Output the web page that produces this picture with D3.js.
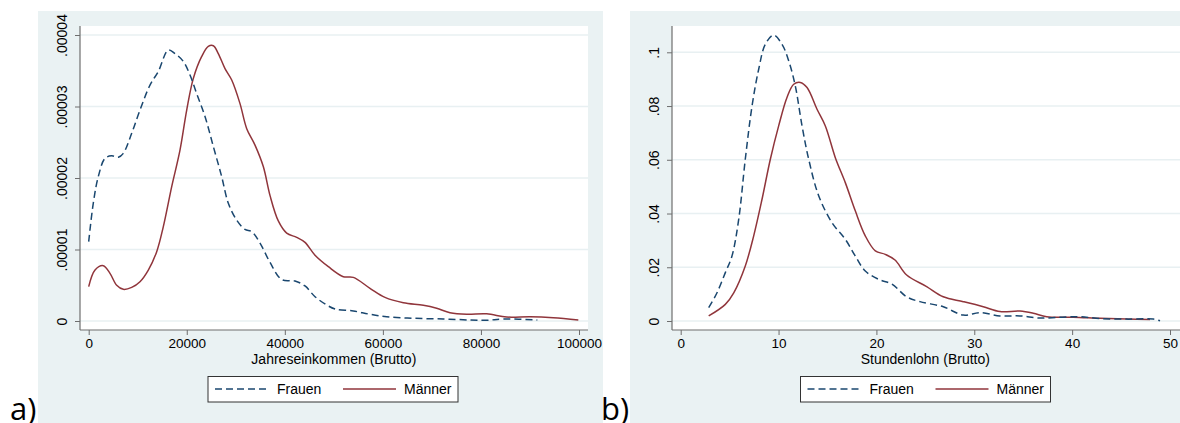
<!DOCTYPE html>
<html><head><meta charset="utf-8">
<script src="https://cdn.jsdelivr.net/npm/d3@7"></script>
<style>
html,body{margin:0;padding:0;background:#fff;}
svg{display:block;}
text{font-family:"Liberation Sans",Arial,sans-serif;fill:#000;}
</style></head>
<body><svg id="c" width="1180" height="423"></svg>
<script>
// ---------- data ----------
const incomeTicks = [0, 20000, 40000, 60000, 80000, 100000];
const incomeDensTicks = [0, 0.00001, 0.00002, 0.00003, 0.00004];
const incomeDensLabels = ["0", ".00001", ".00002", ".00003", ".00004"];
const wageTicks = [0, 10, 20, 30, 40, 50];
const wageDensTicks = [0, 0.02, 0.04, 0.06, 0.08, 0.1];
const wageDensLabels = ["0", ".02", ".04", ".06", ".08", ".1"];
const seriesNames = ["Frauen", "Männer"];
const panelLabels = ["a)", "b)"];
const axisTitles = ["Jahreseinkommen (Brutto)", "Stundenlohn (Brutto)"];

const incomeFrauenX = [0, 940, 1960, 3330, 4690, 6040, 7060, 8770, 10460, 12500, 14200, 16240, 17600, 19300, 20660, 22030, 23720, 25420, 27120, 28480, 30190, 31880, 33250, 34940, 36980, 39360, 42080, 44120, 46160, 48540, 50240, 53970, 57370, 60780, 66210, 72330, 77770, 81200, 84560, 91500];
const incomeFrauenY = [1.11, 1.65, 2.02, 2.275, 2.31, 2.29, 2.345, 2.625, 2.95, 3.30, 3.49, 3.79, 3.74, 3.63, 3.44, 3.18, 2.86, 2.44, 2.02, 1.646, 1.41, 1.28, 1.25, 1.09, 0.82, 0.58, 0.56, 0.49, 0.34, 0.224, 0.168, 0.14, 0.094, 0.06, 0.038, 0.028, 0.014, 0.01, 0.028, 0.014].map(v => v * 1e-5);
const incomeMaennerX = [0, 1290, 2980, 4340, 5710, 7060, 8770, 10460, 12160, 13870, 15220, 16930, 18620, 19990, 21330, 23050, 24390, 25420, 26430, 27800, 29170, 30860, 32230, 33920, 35610, 37000, 38670, 40380, 42420, 44120, 46160, 48880, 51930, 53970, 57370, 60430, 64170, 68250, 70970, 73690, 77090, 81170, 85250, 90000, 94760, 99860];
const incomeMaennerY = [0.48, 0.713, 0.774, 0.667, 0.50, 0.443, 0.47, 0.55, 0.713, 0.97, 1.32, 1.88, 2.39, 2.95, 3.39, 3.70, 3.84, 3.85, 3.74, 3.53, 3.37, 3.04, 2.69, 2.46, 2.16, 1.75, 1.40, 1.23, 1.17, 1.10, 0.92, 0.76, 0.62, 0.61, 0.457, 0.33, 0.256, 0.22, 0.178, 0.116, 0.094, 0.10, 0.056, 0.06, 0.046, 0.014].map(v => v * 1e-5);

const wageFrauenX = [2.86, 3.71, 4.56, 5.24, 5.93, 6.60, 7.29, 7.97, 8.65, 9.50, 10.35, 11.04, 11.71, 12.40, 13.08, 14.10, 15.46, 16.82, 17.84, 18.86, 20.23, 21.59, 23.09, 24.45, 26.83, 28.88, 30.58, 32.63, 34.67, 36.71, 38.76, 40.80, 42.85, 45.57, 48.29, 48.98];
const wageFrauenY = [0.00495, 0.0105, 0.018, 0.0242, 0.0379, 0.0602, 0.080, 0.0937, 0.103, 0.1064, 0.103, 0.0968, 0.0875, 0.0726, 0.0602, 0.0466, 0.0366, 0.0304, 0.0242, 0.0186, 0.0155, 0.0137, 0.0090, 0.0072, 0.0053, 0.0022, 0.0031, 0.0019, 0.0019, 0.0011, 0.0014, 0.0016, 0.0009, 0.0007, 0.0007, 0.0001];
const wageMaennerX = [2.86, 4.56, 5.42, 6.60, 7.46, 8.31, 9.16, 10.01, 10.86, 11.55, 12.22, 12.91, 13.93, 14.78, 15.80, 16.82, 17.84, 18.86, 19.89, 20.91, 21.9, 23.09, 25.13, 26.83, 28.88, 30.92, 32.63, 34.67, 36.03, 37.40, 40.12, 42.85, 45.57, 47.96];
const wageMaennerY = [0.0019, 0.0062, 0.0105, 0.0205, 0.0317, 0.0453, 0.0602, 0.0726, 0.0832, 0.0881, 0.0888, 0.0869, 0.0788, 0.0726, 0.0608, 0.0515, 0.0410, 0.0317, 0.0261, 0.0248, 0.0227, 0.0171, 0.0128, 0.0090, 0.0072, 0.0053, 0.0035, 0.0037, 0.0029, 0.0016, 0.0014, 0.0010, 0.0007, 0.0006];

// ---------- styles ----------
const COL_F = "#1a476f", COL_M = "#90353b", BG = "#eaf2f3", GRID = "#e8f0f2", AXIS = "#6e6e6e";

const svg = d3.select("#c");

function panel(cfg) {
  const g = svg.append("g");
  g.append("rect").attr("x", cfg.bx).attr("y", 11).attr("width", 565).attr("height", 430).attr("fill", BG);
  g.append("rect").attr("x", cfg.px0).attr("y", 26).attr("width", cfg.px1 - cfg.px0).attr("height", 304).attr("fill", "#fff");

  const x = d3.scaleLinear().domain(cfg.xDomain).range(cfg.xRange);
  const y = d3.scaleLinear().domain(cfg.yDomain).range([321, cfg.yTop]);

  g.selectAll(".grid").data(cfg.yTicks).join("line")
    .attr("x1", cfg.px0).attr("x2", cfg.px1)
    .attr("y1", d => y(d)).attr("y2", d => y(d))
    .attr("stroke", GRID).attr("stroke-width", 1.6);

  const ya = g.append("g").attr("transform", `translate(${cfg.px0},0)`)
    .call(d3.axisLeft(y).tickValues(cfg.yTicks).tickSize(5).tickSizeOuter(0).tickFormat((d, i) => cfg.yLabels[i]));
  ya.select(".domain").remove();
  ya.selectAll(".tick line").attr("stroke", AXIS);
  ya.selectAll(".tick text").attr("transform", "rotate(-90)").attr("x", 0).attr("y", -13)
    .attr("dy", 0).attr("text-anchor", "middle").style("font-size", "14px").style("font-family", '"Liberation Sans",Arial,sans-serif').attr("fill", "#000");
  g.append("line").attr("x1", cfg.px0).attr("x2", cfg.px0).attr("y1", 26).attr("y2", 330).attr("stroke", AXIS).attr("stroke-width", 1.2);

  const xa = g.append("g").attr("transform", "translate(0,330)")
    .call(d3.axisBottom(x).tickValues(cfg.xTicks).tickSize(5).tickSizeOuter(0).tickFormat(d3.format("d")));
  xa.select(".domain").remove();
  xa.selectAll(".tick line").attr("stroke", AXIS);
  xa.selectAll(".tick text").attr("y", 7).attr("dy", "0.85em").style("font-size", "13.5px").style("font-family", '"Liberation Sans",Arial,sans-serif').attr("fill", "#000");
  g.append("line").attr("x1", cfg.px0).attr("x2", cfg.px1).attr("y1", 330).attr("y2", 330).attr("stroke", AXIS).attr("stroke-width", 1.2);

  g.append("text").attr("x", (cfg.xRange[0] + cfg.xRange[1]) / 2).attr("y", 364)
    .attr("text-anchor", "middle").style("font-size", "14px").text(cfg.title);

  const line = d3.line().x(d => x(d[0])).y(d => y(d[1])).curve(d3.curveCatmullRom.alpha(0.5));
  const fData = d3.zip(cfg.fX, cfg.fY), mData = d3.zip(cfg.mX, cfg.mY);
  g.append("path").datum(mData).attr("d", line).attr("fill", "none").attr("stroke", COL_M).attr("stroke-width", 1.5);
  g.append("path").datum(fData).attr("d", line).attr("fill", "none").attr("stroke", COL_F).attr("stroke-width", 1.5).attr("stroke-dasharray", "7,4");

  const lx = cfg.legX;
  g.append("rect").attr("x", lx).attr("y", 376.5).attr("width", 250).attr("height", 25.5).attr("fill", "#fff").attr("stroke", "#333").attr("stroke-width", 1);
  g.append("line").attr("x1", lx + 7).attr("x2", lx + 60).attr("y1", 389).attr("y2", 389).attr("stroke", COL_F).attr("stroke-width", 1.5).attr("stroke-dasharray", "7,4");
  g.append("text").attr("x", lx + 69).attr("y", 394).style("font-size", "14px").text(seriesNames[0]);
  g.append("line").attr("x1", lx + 135).attr("x2", lx + 188).attr("y1", 389).attr("y2", 389).attr("stroke", COL_M).attr("stroke-width", 1.5);
  g.append("text").attr("x", lx + 196).attr("y", 394).style("font-size", "14px").text(seriesNames[1]);

  svg.append("text").attr("x", cfg.labX).attr("y", 420).style("font-family", '"Open Sans","Noto Sans",sans-serif')
    .style("font-size", "31px").text(cfg.label);
}

panel({bx: 38, px0: 80, px1: 588, xDomain: [0, 100000], xRange: [88.7, 579], yDomain: [0, 0.00004], yTop: 35,
  yTicks: incomeDensTicks, yLabels: incomeDensLabels, xTicks: incomeTicks, title: axisTitles[0],
  fX: incomeFrauenX, fY: incomeFrauenY, mX: incomeMaennerX, mY: incomeMaennerY, legX: 208, labX: 10, label: panelLabels[0]});
panel({bx: 630, px0: 672, px1: 1180, xDomain: [0, 50], xRange: [680.7, 1170], yDomain: [0, 0.1], yTop: 52.3,
  yTicks: wageDensTicks, yLabels: wageDensLabels, xTicks: wageTicks, title: axisTitles[1],
  fX: wageFrauenX, fY: wageFrauenY, mX: wageMaennerX, mY: wageMaennerY, legX: 800.5, labX: 601, label: panelLabels[1]});
</script></body></html>
